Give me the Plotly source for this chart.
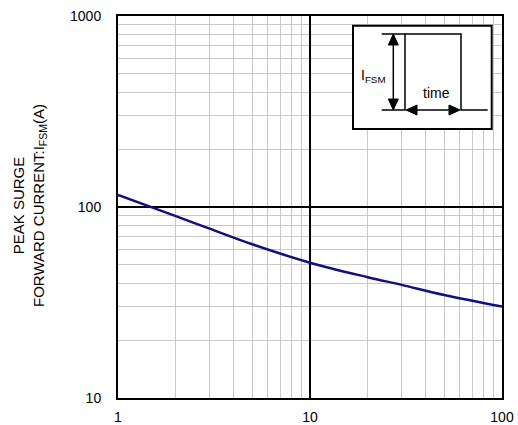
import plotly.graph_objects as go

# Data
x_vals = [1, 2, 3, 5, 10, 20, 30, 50, 100]
y_vals = [115.6, 89.5, 77.0, 63.8, 51.1, 42.9, 39.1, 34.6, 30.1]

x_major = [1, 10, 100]
x_major_text = ["1", "10", "100"]
y_major = [10, 100, 1000]
y_major_text = ["10", "100", "1000"]
minor_x = [m * d for d in (1, 10) for m in range(2, 10)]
minor_y = [m * d for d in (10, 100) for m in range(2, 10)]

FONT = "Liberation Sans, Arial, sans-serif"

fig = go.Figure()
fig.add_trace(go.Scatter(x=x_vals, y=y_vals, mode="lines",
                         line=dict(color="#10107f", width=2.5, shape="spline", smoothing=1.0),
                         showlegend=False, hoverinfo="skip"))

axis_common = dict(
    type="log", showline=True, linecolor="black", linewidth=2, mirror=True,
    showgrid=True, gridcolor="black", gridwidth=1.5, automargin=False,
    ticks="outside", tickcolor="rgba(0,0,0,0)", zeroline=False,
    tickfont=dict(family=FONT, size=14, color="black"),
)

fig.update_xaxes(range=[0, 2], tickvals=x_major, ticktext=x_major_text, ticklen=5,
                 minor=dict(tickvals=minor_x, showgrid=True, gridcolor="#c8c8c8", gridwidth=1, ticks=""),
                 **axis_common)
fig.update_yaxes(range=[1, 3], tickvals=y_major, ticktext=y_major_text, ticklen=12,
                 minor=dict(tickvals=minor_y, showgrid=True, gridcolor="#c8c8c8", gridwidth=1, ticks=""),
                 **axis_common)

# Inset diagram (paper coordinates, converted from pixel positions)
def px(v):
    return (v - 118) / 384.0

def py(v):
    return (398 - v) / 382.0

LINE = dict(color="black", width=1.5)
shapes = []
shapes.append(dict(type="rect", xref="paper", yref="paper",
                   x0=px(353), x1=px(491.7), y0=py(129), y1=py(25.7),
                   line=dict(color="black", width=2), fillcolor="white", layer="above"))
# pulse waveform
path = (f"M {px(381.7)},{py(110)} L {px(405)},{py(110)} L {px(405)},{py(34)} "
        f"L {px(461)},{py(34)} L {px(461)},{py(110)} L {px(487.7)},{py(110)}")
shapes.append(dict(type="path", xref="paper", yref="paper", path=path, line=LINE, layer="above"))
shapes.append(dict(type="line", xref="paper", yref="paper",
                   x0=px(381.7), x1=px(405), y0=py(34), y1=py(34), line=LINE, layer="above"))
# vertical double arrow (I_FSM)
ax_x = 393.3
shapes.append(dict(type="line", xref="paper", yref="paper",
                   x0=px(ax_x), x1=px(ax_x), y0=py(44), y1=py(100), line=LINE, layer="above"))
shapes.append(dict(type="path", xref="paper", yref="paper", layer="above",
                   path=f"M {px(ax_x)},{py(34)} L {px(ax_x-5)},{py(45)} L {px(ax_x+5)},{py(45)} Z",
                   fillcolor="black", line=dict(color="black", width=1)))
shapes.append(dict(type="path", xref="paper", yref="paper", layer="above",
                   path=f"M {px(ax_x)},{py(110)} L {px(ax_x-5)},{py(99)} L {px(ax_x+5)},{py(99)} Z",
                   fillcolor="black", line=dict(color="black", width=1)))
# horizontal double arrow (time)
hy = 110
shapes.append(dict(type="line", xref="paper", yref="paper",
                   x0=px(410), x1=px(456), y0=py(hy), y1=py(hy), line=LINE, layer="above"))
shapes.append(dict(type="path", xref="paper", yref="paper", layer="above",
                   path=f"M {px(406)},{py(hy)} L {px(417)},{py(hy-5)} L {px(417)},{py(hy+5)} Z",
                   fillcolor="black", line=dict(color="black", width=1)))
shapes.append(dict(type="path", xref="paper", yref="paper", layer="above",
                   path=f"M {px(460)},{py(hy)} L {px(449)},{py(hy-5)} L {px(449)},{py(hy+5)} Z",
                   fillcolor="black", line=dict(color="black", width=1)))
fig.update_layout(shapes=shapes)

annotations = [
    dict(xref="paper", yref="paper", x=px(373.5), y=py(76), showarrow=False,
         text="I<sub>FSM</sub>", font=dict(family=FONT, size=14, color="black"),
         xanchor="center", yanchor="middle"),
    dict(xref="paper", yref="paper", x=px(436), y=py(92.5), showarrow=False,
         text="time", font=dict(family=FONT, size=14, color="black"),
         xanchor="center", yanchor="middle"),
    dict(xref="paper", yref="paper", x=0, y=py(206), xshift=29 - 118, showarrow=False,
         text="PEAK SURGE<br>FORWARD CURRENT:I<sub>FSM</sub>(A)", textangle=-90,
         font=dict(family=FONT, size=15, color="black"),
         xanchor="center", yanchor="middle", align="center"),
]
fig.update_layout(annotations=annotations)

fig.update_layout(
    width=518, height=425,
    margin=dict(l=118, r=16, t=16, b=27, autoexpand=False),
    paper_bgcolor="white", plot_bgcolor="white",
    font=dict(family=FONT, size=14, color="black"),
)

fig.write_html("out.html", config={"displayModeBar": False},
               post_script="document.body.style.margin='0';document.body.style.overflow='hidden';")
